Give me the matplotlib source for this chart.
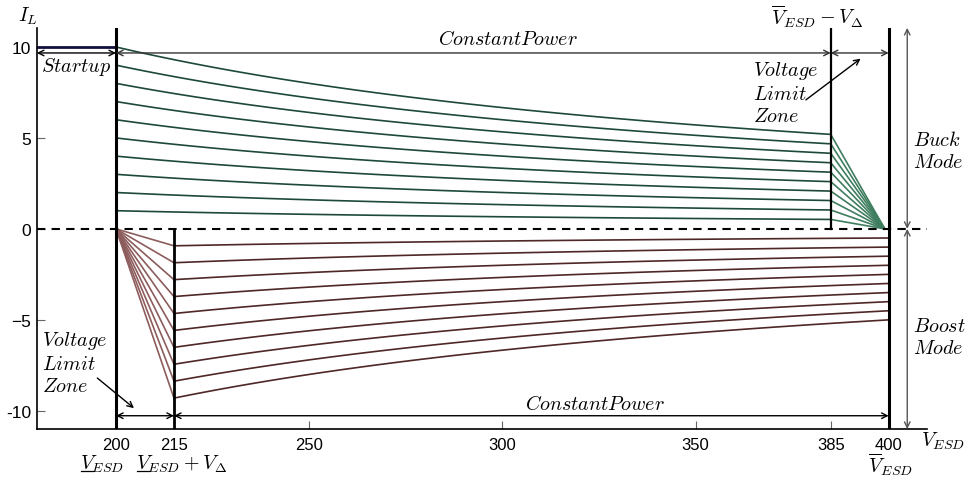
import numpy as np
import matplotlib
matplotlib.use('Agg')
import matplotlib.pyplot as plt

plt.rcParams['font.family'] = ['Liberation Sans', 'DejaVu Sans']
plt.rcParams['mathtext.fontset'] = 'cm'

# voltage breakpoints (V)
v_low = 200
v_low_lim = 215
v_high_lim = 385
v_high = 400
v_zero = 399

# constant power levels (W): currents 1..10 A at 200 V
power_levels = [200, 400, 600, 800, 1000, 1200, 1400, 1600, 1800, 2000]

xticks = [200, 215, 250, 300, 350, 385, 400]
yticks = [10, 5, 0, -5, -10]
ytick_labels = ['10', '5', '0', '\u22125', '-10']

xmin, xmax = 179.5, 410
ymin, ymax = -11, 11.05

green_cp = '#1d4a38'
green_ramp = '#3f7d5f'
brown_cp = '#4f2727'
brown_ramp = '#8d5c5c'
arr_col = '#333333'

fig = plt.figure(figsize=(9.69, 4.81), dpi=100)
ax = fig.add_axes([0.038, 0.106, 0.919, 0.834])

v_cp_buck = np.linspace(v_low, v_high_lim, 100)
v_cp_boost = np.linspace(v_low_lim, v_high, 100)
for p in power_levels:
    ax.plot(v_cp_buck, p / v_cp_buck, color=green_cp, lw=1.2)
    ax.plot([v_high_lim, v_zero], [p / v_high_lim, 0], color=green_ramp, lw=1.2)
    ax.plot([v_low, v_low_lim], [0, -p / v_low_lim], color=brown_ramp, lw=1.2)
    ax.plot(v_cp_boost, -p / v_cp_boost, color=brown_cp, lw=1.2)

# zero line and limits
ax.plot([xmin, xmax], [0, 0], 'k--', lw=1.5, dashes=(4, 3))
ax.plot([xmin, v_low], [10, 10], color='#101040', lw=2)
ax.plot([v_low, v_low], [ymin, ymax], 'k', lw=2.2)
ax.plot([v_low_lim, v_low_lim], [ymin, 0], 'k', lw=2)
ax.plot([v_high_lim, v_high_lim], [0, ymax], 'k', lw=1.6)
ax.plot([v_high, v_high], [ymin, ymax], 'k', lw=2.2)

def harrow(x0, x1, y, col=arr_col):
    ax.annotate('', xy=(x1, y), xytext=(x0, y),
                arrowprops=dict(arrowstyle='<->', color=col, lw=1,
                                shrinkA=0, shrinkB=0))

harrow(xmin, v_low, 9.67, 'k')
harrow(v_low, v_high_lim, 9.67)
harrow(v_high_lim, v_high, 9.67)
harrow(v_low, v_low_lim, -10.27, 'k')
harrow(v_low_lim, v_high, -10.27, 'k')

for y0, y1 in [(ymax, 0), (0, ymin)]:
    ax.annotate('', xy=(404.8, y1), xytext=(404.8, y0),
                arrowprops=dict(arrowstyle='<->', color='#555555', lw=1,
                                shrinkA=0, shrinkB=0), annotation_clip=False)

fs = 14.5
ax.text(189.7, 8.95, '$Startup$', fontsize=fs, ha='center', va='center')
ax.text(301.5, 10.45, '$ConstantPower$', fontsize=fs, ha='center', va='center')
ax.text(324, -9.6, '$ConstantPower$', fontsize=fs, ha='center', va='center')
ax.text(364.8, 7.5, '$Voltage$\n$Limit$\n$Zone$', fontsize=fs, ha='left',
        va='center', linespacing=1.2)
ax.text(180.8, -7.3, '$Voltage$\n$Limit$\n$Zone$', fontsize=fs, ha='left',
        va='center', linespacing=1.2)
ax.text(406.3, 4.3, '$Buck$\n$Mode$', fontsize=fs, ha='left', va='center',
        linespacing=1.2, clip_on=False)
ax.text(406.3, -5.9, '$Boost$\n$Mode$', fontsize=fs, ha='left', va='center',
        linespacing=1.2, clip_on=False)

ax.annotate('', xy=(393.3, 9.45), xytext=(378, 7.0),
            arrowprops=dict(arrowstyle='->', color='k', lw=1))
ax.annotate('', xy=(205.2, -9.95), xytext=(194.6, -8.1),
            arrowprops=dict(arrowstyle='->', color='k', lw=1))

# outside labels
ax.text(174.6, 11.43, '$I_L$', fontsize=fs, ha='left', va='baseline', clip_on=False)
ax.text(408.3, -11.92, '$V_{ESD}$', fontsize=fs, ha='left', va='baseline',
        clip_on=False)
ax.text(381.4, 11.26, r'$\overline{V}_{ESD}-V_{\Delta}$', fontsize=fs,
        ha='center', va='baseline', clip_on=False)
ax.text(400.5, -13.35, r'$\overline{V}_{ESD}$', fontsize=fs, ha='center',
        va='baseline', clip_on=False)
ax.text(190.7, -13.15, '$V_{ESD}$', fontsize=fs, ha='left', va='baseline',
        clip_on=False)
ax.text(205.2, -13.15, r'$V_{ESD}+V_{\Delta}$', fontsize=fs, ha='left',
        va='baseline', clip_on=False)

# underline the V of the lower-limit labels
for x0 in [190.9, 205.4]:
    ax.plot([x0, x0 + 3.1], [-13.3, -13.3], color='k', lw=0.9, clip_on=False)

ax.set_xlim(xmin, xmax)
ax.set_ylim(ymin, ymax)
ax.set_xticks(xticks)
ax.set_xticklabels([str(t) for t in xticks], fontsize=12)
ax.set_yticks(yticks)
ax.set_yticklabels(ytick_labels, fontsize=12.5)
ax.tick_params(direction='in', length=6, color='#666666')
ax.tick_params(axis='x', pad=6)
ax.tick_params(axis='y', pad=4)
for s in ['top', 'right']:
    ax.spines[s].set_visible(False)
ax.spines['left'].set_linewidth(1.2)
ax.spines['bottom'].set_linewidth(1.2)

fig.savefig('out.png', dpi=100)
